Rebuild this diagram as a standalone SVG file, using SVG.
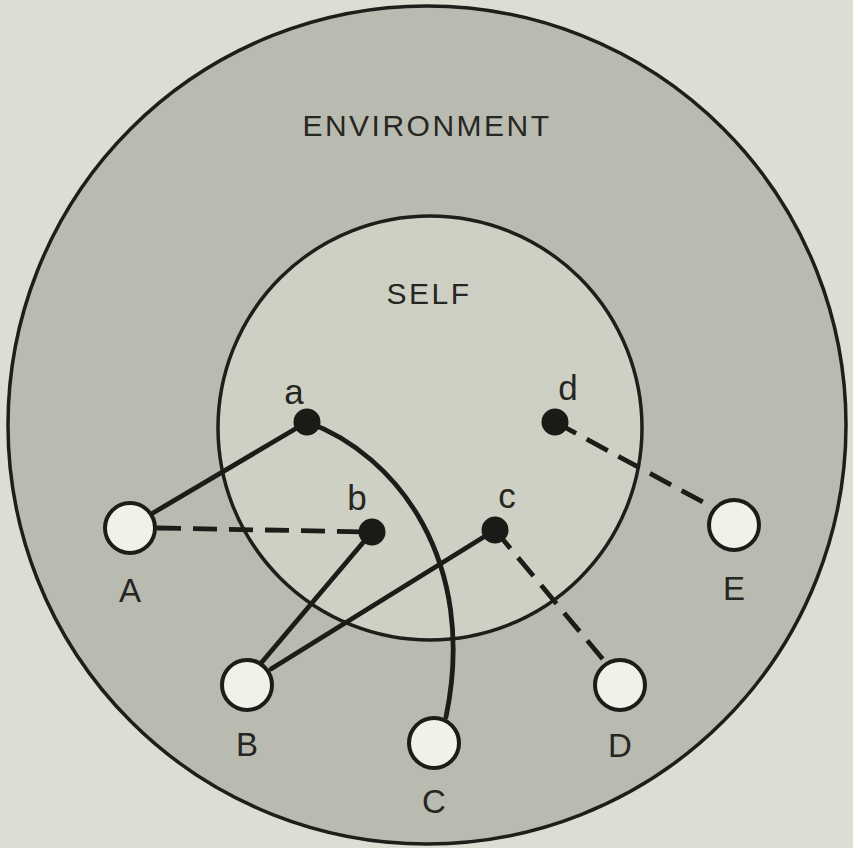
<svg xmlns="http://www.w3.org/2000/svg" width="853" height="848" viewBox="0 0 853 848">
<style>
.ring{stroke:#1e1e1a;stroke-width:3.5}
.lbl{font-family:"Liberation Sans","DejaVu Sans",sans-serif;fill:#262622;text-anchor:middle}
.cap{font-size:30px;letter-spacing:2.5px}
.node{font-size:33px}
.low{font-size:35px}
.solid{fill:none;stroke:#1c1c18;stroke-width:4.8;stroke-linecap:round}
.dash{fill:none;stroke:#1c1c18;stroke-width:4.8;stroke-dasharray:24 12}
.dot{fill:#1a1a16}
.open{fill:#f1f1ea;stroke:#1c1c18;stroke-width:4}
</style>
<rect width="853" height="848" fill="#dcded3"/>
<g id="environment">
<circle cx="427" cy="425" r="419" fill="#b9bbb0" class="ring"/>
<text class="lbl cap" x="427" y="136">ENVIRONMENT</text>
</g>
<g id="self">
<circle cx="430" cy="428" r="212" fill="#ced0c4" class="ring"/>
<text class="lbl cap" x="429" y="304">SELF</text>
</g>
<g id="connectors">
<line class="solid" x1="307" y1="422" x2="153" y2="513"/>
<line class="dash" x1="157" y1="528" x2="372" y2="532"/>
<path class="solid" d="M307,422 C398,455 478,562 446,717"/>
<line class="solid" x1="372" y1="532" x2="262" y2="662"/>
<line class="solid" x1="495" y1="530" x2="271" y2="669"/>
<line class="dash" x1="495" y1="530" x2="606" y2="663"/>
<line class="dash" x1="555" y1="422" x2="712" y2="507"/>
</g>
<g id="node-a"><circle class="dot" cx="307" cy="422" r="13.5"/><text class="lbl low" x="294" y="404">a</text></g>
<g id="node-b"><circle class="dot" cx="372" cy="532" r="13.5"/><text class="lbl low" x="357" y="510">b</text></g>
<g id="node-c"><circle class="dot" cx="495" cy="530" r="13.5"/><text class="lbl low" x="507" y="508">c</text></g>
<g id="node-d"><circle class="dot" cx="555" cy="422" r="13.5"/><text class="lbl low" x="568" y="400">d</text></g>
<g id="node-A"><circle class="open" cx="130" cy="528" r="25"/><text class="lbl node" x="130" y="602">A</text></g>
<g id="node-B"><circle class="open" cx="247" cy="685" r="25"/><text class="lbl node" x="247" y="756">B</text></g>
<g id="node-C"><circle class="open" cx="434" cy="743" r="25"/><text class="lbl node" x="434" y="813">C</text></g>
<g id="node-D"><circle class="open" cx="620" cy="685" r="25"/><text class="lbl node" x="620" y="757">D</text></g>
<g id="node-E"><circle class="open" cx="734" cy="525" r="25"/><text class="lbl node" x="734" y="600">E</text></g>
</svg>
